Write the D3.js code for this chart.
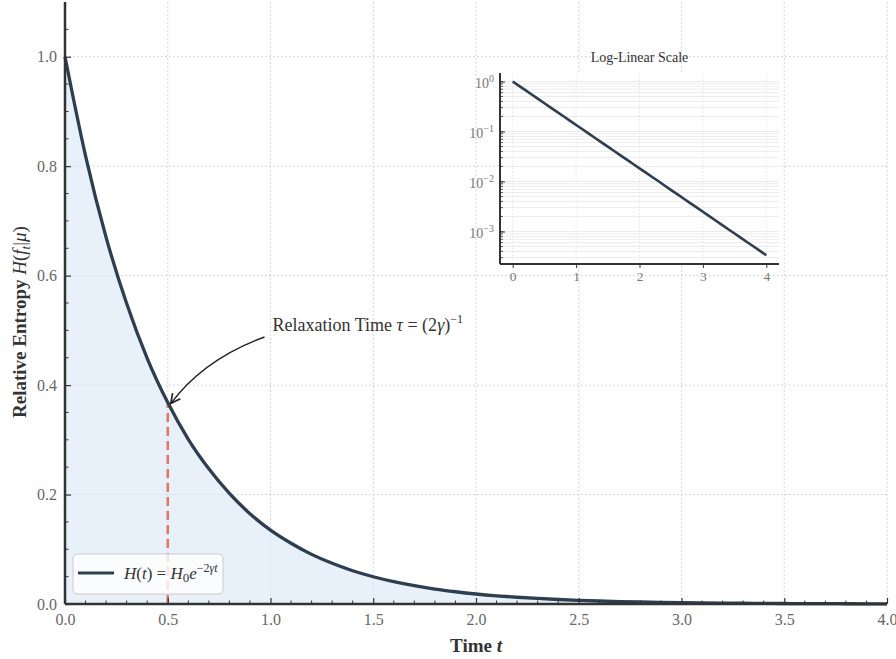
<!DOCTYPE html>
<html><head><meta charset="utf-8">
<script src="https://cdn.jsdelivr.net/npm/d3@7"></script>
<style>body{margin:0;background:#fff}svg{display:block}text{font-family:"Liberation Serif","Times New Roman",serif}</style>
</head><body><svg id="c" width="896" height="659"></svg>
<script>
// ---- data ----
const timeValues = [0.0,0.1,0.2,0.3,0.4,0.5,0.6,0.7,0.8,0.9,1.0,1.1,1.2,1.3,1.4,1.5,1.6,1.7,1.8,1.9,2.0,2.1,2.2,2.3,2.4,2.5,2.6,2.7,2.8,2.9,3.0,3.1,3.2,3.3,3.4,3.5,3.6,3.7,3.8,3.9,4.0];
const entropyValues = [1.0,0.819,0.670,0.549,0.449,0.368,0.301,0.247,0.202,0.165,0.135,0.111,0.0907,0.0743,0.0608,0.0498,0.0408,0.0334,0.0273,0.0224,0.0183,0.0150,0.0123,0.0101,0.00823,0.00674,0.00552,0.00452,0.00370,0.00303,0.00248,0.00203,0.00166,0.00136,0.00111,0.000912,0.000747,0.000611,0.000500,0.000410,0.000335];
const xTicks = [0.0,0.5,1.0,1.5,2.0,2.5,3.0,3.5,4.0];
const yTicks = [0.0,0.2,0.4,0.6,0.8,1.0];
const insetXTicks = [0,1,2,3,4];
const insetYTicks = [1,0.1,0.01,0.001];
const relaxTime = 0.5;
const relaxValue = 0.368;

const data = timeValues.map((t,i)=>({t, h: entropyValues[i]}));
const svg = d3.select("#c");
const navy = "#2c3e50", spine = "#333";

// ---- main axes ----
const M = {l:65, r:887, t:2, b:604};
const x = d3.scaleLinear().domain([0,4]).range([M.l, M.r]);
const y = d3.scaleLinear().domain([0,1.1]).range([M.b, M.t]);

// grid
const g = svg.append("g");
g.selectAll(".gx").data(xTicks.slice(1)).join("line")
  .attr("x1",d=>x(d)).attr("x2",d=>x(d)).attr("y1",M.t).attr("y2",M.b)
  .attr("stroke","#c8c8c8").attr("stroke-width",1).attr("stroke-dasharray","1.5,2.5");
g.selectAll(".gy").data(yTicks.slice(1)).join("line")
  .attr("x1",M.l).attr("x2",M.r).attr("y1",d=>y(d)).attr("y2",d=>y(d))
  .attr("stroke","#c8c8c8").attr("stroke-width",1).attr("stroke-dasharray","1.5,2.5");

// fill
svg.append("path").datum(data)
  .attr("d", d3.area().x(d=>x(d.t)).y0(y(0)).y1(d=>y(d.h)).curve(d3.curveMonotoneX))
  .attr("fill","#d6e6f5").attr("fill-opacity",0.55);

// dashed relaxation line
svg.append("line").attr("x1",x(relaxTime)).attr("x2",x(relaxTime))
  .attr("y1",y(0)).attr("y2",y(relaxValue))
  .attr("stroke","#e8735f").attr("stroke-width",2.5).attr("stroke-dasharray","9,5");

// curve
svg.append("path").datum(data)
  .attr("d", d3.line().x(d=>x(d.t)).y(d=>y(d.h)).curve(d3.curveMonotoneX))
  .attr("fill","none").attr("stroke",navy).attr("stroke-width",3.3);

// axes
const xAxis = d3.axisBottom(x).tickValues(xTicks).tickFormat(d3.format(".1f")).tickSizeInner(-6).tickSizeOuter(0).tickPadding(10);
const xg = svg.append("g").attr("transform",`translate(0,${M.b})`).call(xAxis);
const yAxis = d3.axisLeft(y).tickValues(yTicks).tickFormat(d3.format(".1f")).tickSizeInner(-6).tickSizeOuter(0).tickPadding(8);
const yg = svg.append("g").attr("transform",`translate(${M.l},0)`).call(yAxis);
// minor ticks
const xMinor = d3.range(0,41).map(i=>i/10).filter(v=>Math.abs(v*2-Math.round(v*2))>1e-6);
svg.append("g").selectAll("line").data(xMinor).join("line")
  .attr("x1",d=>x(d)).attr("x2",d=>x(d)).attr("y1",M.b).attr("y2",M.b-3.5)
  .attr("stroke",spine).attr("stroke-width",1);
const yMinor = d3.range(0,22).map(i=>i*0.05).filter(v=>Math.abs(v*5-Math.round(v*5))>1e-6);
svg.append("g").selectAll("line").data(yMinor).join("line")
  .attr("x1",M.l).attr("x2",M.l+3.5).attr("y1",d=>y(d)).attr("y2",d=>y(d))
  .attr("stroke",spine).attr("stroke-width",1);
[xg,yg].forEach(a=>{
  a.select(".domain").attr("stroke",spine).attr("stroke-width",2.5);
  a.selectAll(".tick line").attr("stroke",spine).attr("stroke-width",1.2);
  a.selectAll(".tick text").attr("fill","#666").style("font-size","16px").style("font-family","'Liberation Serif',serif");
});
yg.select(".domain").attr("d",`M0,${M.b}V${M.t}`);
xg.select(".domain").attr("d",`M${M.l},0H${M.r}`);

// axis labels
svg.append("text").attr("x",(M.l+M.r)/2).attr("y",652).attr("text-anchor","middle")
  .attr("fill","#333").style("font-size","19px").style("font-weight","bold")
  .html('Time <tspan font-style="italic">t</tspan>');
svg.append("text").attr("transform","translate(26,322) rotate(-90)").attr("text-anchor","middle")
  .attr("fill","#333").style("font-size","19px").style("font-weight","bold")
  .html('Relative Entropy <tspan font-style="italic" font-weight="normal">H</tspan><tspan font-weight="normal">(</tspan><tspan font-style="italic" font-weight="normal">f</tspan><tspan font-style="italic" font-weight="normal" font-size="13px" dy="4">t</tspan><tspan font-weight="normal" dy="-4">|</tspan><tspan font-style="italic" font-weight="normal">μ</tspan><tspan font-weight="normal">)</tspan>');

// annotation
svg.append("defs").append("marker").attr("id","ah").attr("viewBox","0 0 10 10")
  .attr("refX",9).attr("refY",5).attr("markerWidth",12).attr("markerHeight",12)
  .attr("markerUnits","userSpaceOnUse").attr("orient","auto")
  .append("path").attr("d","M1,1L9,5L1,9").attr("fill","none").attr("stroke","#222").attr("stroke-width",1.4);
const ax0 = x(1.0)-6, ay0 = y(0.488), ax1 = x(relaxTime)+3, ay1 = y(relaxValue)+1;
const cx = (ax0+ax1)/2 - 14, cy = (ay0+ay1)/2 - 11;
svg.append("path").attr("d",`M${ax0},${ay0}Q${cx},${cy} ${ax1},${ay1}`)
  .attr("fill","none").attr("stroke","#222").attr("stroke-width",1.5).attr("marker-end","url(#ah)");
svg.append("text").attr("x",x(1.0)+2).attr("y",y(0.5)+1).attr("fill","#333")
  .style("font-size","18px")
  .html('Relaxation Time <tspan font-style="italic">τ</tspan> = (2<tspan font-style="italic">γ</tspan>)<tspan font-size="12px" dy="-8">−1</tspan>');

// legend
const lg = svg.append("g");
lg.append("rect").attr("x",73).attr("y",554).attr("width",150).attr("height",40).attr("rx",4)
  .attr("fill","#fff").attr("fill-opacity",0.8).attr("stroke","#ccc").attr("stroke-width",1);
lg.append("line").attr("x1",78).attr("x2",114).attr("y1",573).attr("y2",573).attr("stroke",navy).attr("stroke-width",3);
lg.append("text").attr("x",124).attr("y",579).attr("fill","#333").style("font-size","17px")
  .html('<tspan font-style="italic">H</tspan>(<tspan font-style="italic">t</tspan>) = <tspan font-style="italic">H</tspan><tspan font-size="13px" dy="3">0</tspan><tspan font-style="italic" dy="-3">e</tspan><tspan font-size="12px" dy="-7">−2<tspan font-style="italic">γt</tspan></tspan>');

// ---- inset ----
const I = {l:500, r:779, t:73, b:264};
const ix = d3.scaleLinear().domain([-0.2,4.2]).range([I.l, I.r]);
const iy = d3.scaleLog().domain([Math.pow(10,-3.65), Math.pow(10,0.17)]).range([I.b, I.t]);
const ig = svg.append("g");
ig.append("rect").attr("x",I.l).attr("y",I.t).attr("width",I.r-I.l).attr("height",I.b-I.t).attr("fill","#fff");
// minor log grid
const logMinor = [];
for (let k=-4;k<=0;k++) for (let m=1;m<10;m++){ const v=m*Math.pow(10,k); if (v>=iy.domain()[0] && v<=iy.domain()[1]) logMinor.push(v); }
ig.selectAll(".lg").data(logMinor).join("line")
  .attr("x1",I.l).attr("x2",I.r).attr("y1",d=>iy(d)).attr("y2",d=>iy(d))
  .attr("stroke","#ececec").attr("stroke-width",1);
ig.selectAll(".vg").data(insetXTicks).join("line")
  .attr("x1",d=>ix(d)).attr("x2",d=>ix(d)).attr("y1",I.t).attr("y2",I.b)
  .attr("stroke","#e4e4e4").attr("stroke-width",1).attr("stroke-dasharray","1.5,2");
ig.append("path").datum(data)
  .attr("d", d3.line().x(d=>ix(d.t)).y(d=>iy(d.h)))
  .attr("fill","none").attr("stroke",navy).attr("stroke-width",2.6);
// inset axes
const ixg = ig.append("g").attr("transform",`translate(0,${I.b})`)
  .call(d3.axisBottom(ix).tickValues(insetXTicks).tickFormat(d3.format("d")).tickSizeInner(4).tickSizeOuter(0).tickPadding(3));
const iyg = ig.append("g").attr("transform",`translate(${I.l},0)`)
  .call(d3.axisLeft(iy).tickValues(insetYTicks).tickFormat("").tickSizeInner(-5).tickSizeOuter(0));
ig.selectAll(".mt").data(logMinor).join("line")
  .attr("x1",I.l).attr("x2",I.l+3).attr("y1",d=>iy(d)).attr("y2",d=>iy(d))
  .attr("stroke",spine).attr("stroke-width",0.8);
[ixg,iyg].forEach(a=>{
  a.select(".domain").attr("stroke",spine).attr("stroke-width",2);
  a.selectAll(".tick line").attr("stroke",spine).attr("stroke-width",1);
  a.selectAll(".tick text").attr("fill","#777").style("font-size","13.5px").style("font-family","'Liberation Serif',serif");
});
iyg.select(".domain").attr("d",`M0,${I.b}V${I.t}`);
ixg.select(".domain").attr("d",`M${I.l},0H${I.r}`);
iyg.selectAll(".tick").append("text").attr("x",-6).attr("dy","0.4em").attr("text-anchor","end")
  .attr("fill","#777").style("font-size","14px")
  .html(d=>`10<tspan fill="#777" font-size="10px" dy="-6">${Math.round(Math.log10(d))===0?"0":"−"+(-Math.round(Math.log10(d)))}</tspan>`);
svg.append("text").attr("x",(I.l+I.r)/2).attr("y",62).attr("text-anchor","middle")
  .attr("fill","#333").style("font-size","14px").text("Log-Linear Scale");
</script></body></html>
